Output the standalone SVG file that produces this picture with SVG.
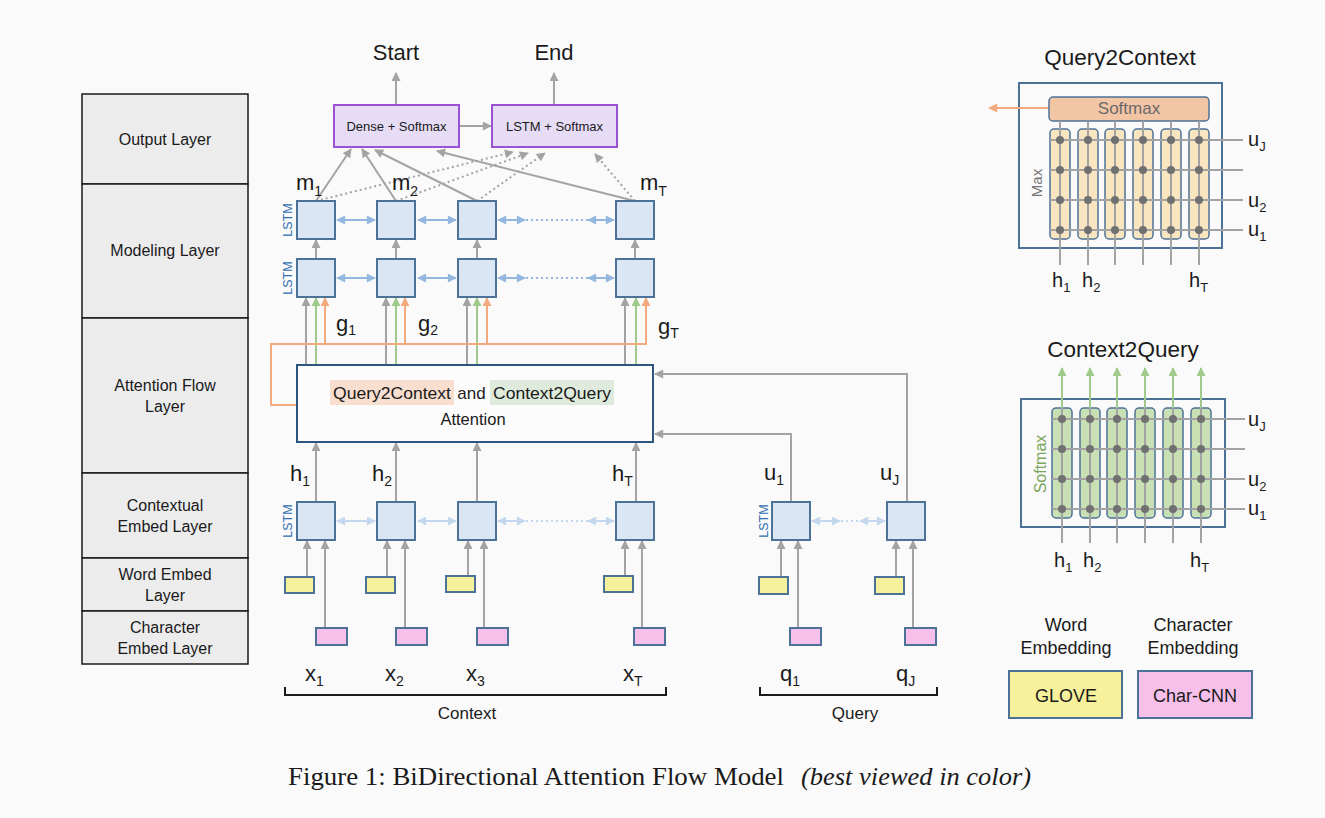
<svg xmlns="http://www.w3.org/2000/svg" width="1325" height="818" viewBox="0 0 1325 818">
<style>
text{font-family:"Liberation Sans",Arial,sans-serif;fill:#1a1a1a}
.layer{fill:#ececec;stroke:#1a1a1a;stroke-width:1.5}
.lt{font-size:16px;text-anchor:middle}
.lstm{fill:#dae6f3;stroke:#4d7298;stroke-width:2}
.yel{fill:#f8f19c;stroke:#4d7298;stroke-width:2}
.pink{fill:#f6c0ea;stroke:#4d7298;stroke-width:2}
.out{fill:#e6dcf6;stroke:#9b52d2;stroke-width:2}
.ot{font-size:13px;text-anchor:middle}
.big{font-size:22px;text-anchor:middle}
.lbl{font-size:22px}
.sub{font-size:14px}
.ltag{font-size:12.5px;fill:#2f6fb3;text-anchor:middle}
.g{stroke:#a3a3a3;stroke-width:2;fill:none}
.gd{stroke:#a3a3a3;stroke-width:2;fill:none;stroke-dasharray:2 3}
.or{stroke:#f2aa7e;stroke-width:2;fill:none}
.gr{stroke:#9fca8c;stroke-width:2;fill:none}
.bl{stroke:#93b7de;stroke-width:2;fill:none}
.bld{stroke:#93b7de;stroke-width:2;fill:none;stroke-dasharray:2 3}
.lb{stroke:#c3d8ee;stroke-width:2;fill:none}
.lbd{stroke:#c3d8ee;stroke-width:2;fill:none;stroke-dasharray:2 3}
.panel{fill:none;stroke:#4d7298;stroke-width:2}
.dot{fill:#707070}
.col1{fill:#f9e6c0;stroke:#4d7298;stroke-width:1.5}
.col2{fill:#c8e0b4;stroke:#4d7298;stroke-width:1.5}
.ptitle{font-size:22.5px;text-anchor:middle}
.pl{font-size:20px}
.psub{font-size:13px}
</style>
<defs>
<marker id="ag" viewBox="0 0 10 10" refX="9" refY="5" markerWidth="10" markerHeight="9" orient="auto" markerUnits="userSpaceOnUse"><path d="M0,0 L10,5 L0,10 z" fill="#a3a3a3"/></marker>
<marker id="ao" viewBox="0 0 10 10" refX="9" refY="5" markerWidth="10" markerHeight="9" orient="auto" markerUnits="userSpaceOnUse"><path d="M0,0 L10,5 L0,10 z" fill="#f2aa7e"/></marker>
<marker id="agr" viewBox="0 0 10 10" refX="9" refY="5" markerWidth="10" markerHeight="9" orient="auto" markerUnits="userSpaceOnUse"><path d="M0,0 L10,5 L0,10 z" fill="#9fca8c"/></marker>
<marker id="ab" viewBox="0 0 10 10" refX="9" refY="5" markerWidth="10" markerHeight="9" orient="auto-start-reverse" markerUnits="userSpaceOnUse"><path d="M0,0 L10,5 L0,10 z" fill="#93b7de"/></marker>
<marker id="alb" viewBox="0 0 10 10" refX="9" refY="5" markerWidth="10" markerHeight="9" orient="auto-start-reverse" markerUnits="userSpaceOnUse"><path d="M0,0 L10,5 L0,10 z" fill="#c3d8ee"/></marker>
</defs>
<rect width="1325" height="818" fill="#fafafa"/>

<g id="layers">
<rect class="layer" x="82" y="94" width="166" height="90"/>
<rect class="layer" x="82" y="184" width="166" height="134"/>
<rect class="layer" x="82" y="318" width="166" height="155"/>
<rect class="layer" x="82" y="473" width="166" height="85"/>
<rect class="layer" x="82" y="558" width="166" height="53"/>
<rect class="layer" x="82" y="611" width="166" height="53"/>
<text class="lt" x="165" y="145">Output Layer</text>
<text class="lt" x="165" y="256">Modeling Layer</text>
<text class="lt" x="165" y="391">Attention Flow</text>
<text class="lt" x="165" y="412">Layer</text>
<text class="lt" x="165" y="511">Contextual</text>
<text class="lt" x="165" y="532">Embed Layer</text>
<text class="lt" x="165" y="580">Word Embed</text>
<text class="lt" x="165" y="601">Layer</text>
<text class="lt" x="165" y="633">Character</text>
<text class="lt" x="165" y="654">Embed Layer</text>
</g>

<g id="connectors">
<line class="g" x1="396" y1="105" x2="396" y2="73" marker-end="url(#ag)"/>
<line class="g" x1="554" y1="105" x2="554" y2="73" marker-end="url(#ag)"/>
<line class="g" x1="459" y1="126" x2="491" y2="126" marker-end="url(#ag)"/>
<line class="g" x1="316" y1="201" x2="351" y2="149" marker-end="url(#ag)"/>
<line class="g" x1="396" y1="201" x2="362" y2="149" marker-end="url(#ag)"/>
<line class="g" x1="477" y1="201" x2="375" y2="150" marker-end="url(#ag)"/>
<line class="g" x1="635" y1="201" x2="437" y2="151" marker-end="url(#ag)"/>
<line class="gd" x1="316" y1="201" x2="513" y2="152" marker-end="url(#ag)"/>
<line class="gd" x1="396" y1="201" x2="528" y2="153" marker-end="url(#ag)"/>
<line class="gd" x1="477" y1="201" x2="545" y2="153" marker-end="url(#ag)"/>
<line class="gd" x1="635" y1="201" x2="595" y2="154" marker-end="url(#ag)"/>
<line class="bl" x1="337" y1="220" x2="375" y2="220" marker-start="url(#ab)" marker-end="url(#ab)"/>
<line class="bl" x1="418" y1="220" x2="456" y2="220" marker-start="url(#ab)" marker-end="url(#ab)"/>
<line class="bl" x1="498" y1="220" x2="525" y2="220" marker-start="url(#ab)" marker-end="url(#ab)"/>
<line class="bld" x1="526" y1="220" x2="588" y2="220"/>
<line class="bl" x1="588" y1="220" x2="614" y2="220" marker-start="url(#ab)" marker-end="url(#ab)"/>
<line class="bl" x1="337" y1="278" x2="375" y2="278" marker-start="url(#ab)" marker-end="url(#ab)"/>
<line class="bl" x1="418" y1="278" x2="456" y2="278" marker-start="url(#ab)" marker-end="url(#ab)"/>
<line class="bl" x1="498" y1="278" x2="525" y2="278" marker-start="url(#ab)" marker-end="url(#ab)"/>
<line class="bld" x1="526" y1="278" x2="588" y2="278"/>
<line class="bl" x1="588" y1="278" x2="614" y2="278" marker-start="url(#ab)" marker-end="url(#ab)"/>
<line class="g" x1="316" y1="259" x2="316" y2="240" marker-end="url(#ag)"/>
<line class="g" x1="396" y1="259" x2="396" y2="240" marker-end="url(#ag)"/>
<line class="g" x1="477" y1="259" x2="477" y2="240" marker-end="url(#ag)"/>
<line class="g" x1="635" y1="259" x2="635" y2="240" marker-end="url(#ag)"/>
<line class="g" x1="306" y1="365" x2="306" y2="298" marker-end="url(#ag)"/>
<line class="g" x1="386" y1="365" x2="386" y2="298" marker-end="url(#ag)"/>
<line class="g" x1="467" y1="365" x2="467" y2="298" marker-end="url(#ag)"/>
<line class="g" x1="625" y1="365" x2="625" y2="298" marker-end="url(#ag)"/>
<line class="gr" x1="316" y1="365" x2="316" y2="298" marker-end="url(#agr)"/>
<line class="gr" x1="396" y1="365" x2="396" y2="298" marker-end="url(#agr)"/>
<line class="gr" x1="477" y1="365" x2="477" y2="298" marker-end="url(#agr)"/>
<line class="gr" x1="636" y1="365" x2="636" y2="298" marker-end="url(#agr)"/>
<path class="or" d="M297,405 H271 V344 H646"/>
<line class="or" x1="325" y1="344" x2="325" y2="298" marker-end="url(#ao)"/>
<line class="or" x1="405" y1="344" x2="405" y2="298" marker-end="url(#ao)"/>
<line class="or" x1="487" y1="344" x2="487" y2="298" marker-end="url(#ao)"/>
<line class="or" x1="646" y1="345" x2="646" y2="298" marker-end="url(#ao)"/>
<path class="g" d="M907,502 V374 H655" marker-end="url(#ag)"/>
<path class="g" d="M791,502 V434 H655" marker-end="url(#ag)"/>
<line class="g" x1="316" y1="502" x2="316" y2="443" marker-end="url(#ag)"/>
<line class="g" x1="396" y1="502" x2="396" y2="443" marker-end="url(#ag)"/>
<line class="g" x1="477" y1="502" x2="477" y2="443" marker-end="url(#ag)"/>
<line class="g" x1="636" y1="502" x2="636" y2="443" marker-end="url(#ag)"/>
<line class="lb" x1="337" y1="521" x2="375" y2="521" marker-start="url(#alb)" marker-end="url(#alb)"/>
<line class="lb" x1="418" y1="521" x2="456" y2="521" marker-start="url(#alb)" marker-end="url(#alb)"/>
<line class="lb" x1="498" y1="521" x2="525" y2="521" marker-start="url(#alb)" marker-end="url(#alb)"/>
<line class="lbd" x1="526" y1="521" x2="588" y2="521"/>
<line class="lb" x1="588" y1="521" x2="614" y2="521" marker-start="url(#alb)" marker-end="url(#alb)"/>
<line class="lb" x1="812" y1="521" x2="840" y2="521" marker-start="url(#alb)" marker-end="url(#alb)"/>
<line class="lbd" x1="841" y1="521" x2="860" y2="521"/>
<line class="lb" x1="860" y1="521" x2="885" y2="521" marker-start="url(#alb)" marker-end="url(#alb)"/>
<line class="g" x1="307" y1="577" x2="307" y2="541" marker-end="url(#ag)"/>
<line class="g" x1="325" y1="628" x2="325" y2="541" marker-end="url(#ag)"/>
<line class="g" x1="387" y1="577" x2="387" y2="541" marker-end="url(#ag)"/>
<line class="g" x1="405" y1="628" x2="405" y2="541" marker-end="url(#ag)"/>
<line class="g" x1="468" y1="576" x2="468" y2="541" marker-end="url(#ag)"/>
<line class="g" x1="484" y1="628" x2="484" y2="541" marker-end="url(#ag)"/>
<line class="g" x1="625" y1="576" x2="625" y2="541" marker-end="url(#ag)"/>
<line class="g" x1="642" y1="628" x2="642" y2="541" marker-end="url(#ag)"/>
<line class="g" x1="781" y1="577" x2="781" y2="541" marker-end="url(#ag)"/>
<line class="g" x1="798" y1="628" x2="798" y2="541" marker-end="url(#ag)"/>
<line class="g" x1="896" y1="577" x2="896" y2="541" marker-end="url(#ag)"/>
<line class="g" x1="913" y1="628" x2="913" y2="541" marker-end="url(#ag)"/>
<path d="M285,687 V695 H666 V687" fill="none" stroke="#1a1a1a" stroke-width="2"/>
<path d="M760,687 V695 H937 V687" fill="none" stroke="#1a1a1a" stroke-width="2"/>
</g>

<g id="output">
<rect class="out" x="334" y="105" width="125" height="42"/>
<rect class="out" x="492" y="105" width="125" height="42"/>
<text class="ot" x="396.5" y="131">Dense + Softmax</text>
<text class="ot" x="554.5" y="131">LSTM + Softmax</text>
<text class="big" x="396" y="60">Start</text>
<text class="big" x="554" y="60">End</text>
</g>

<g id="modeling">
<rect class="lstm" x="297" y="201" width="38" height="38"/>
<rect class="lstm" x="377" y="201" width="38" height="38"/>
<rect class="lstm" x="458" y="201" width="38" height="38"/>
<rect class="lstm" x="616" y="201" width="38" height="38"/>
<rect class="lstm" x="297" y="259" width="38" height="38"/>
<rect class="lstm" x="377" y="259" width="38" height="38"/>
<rect class="lstm" x="458" y="259" width="38" height="38"/>
<rect class="lstm" x="616" y="259" width="38" height="38"/>
<text class="ltag" transform="translate(291.5,220) rotate(-90)">LSTM</text>
<text class="ltag" transform="translate(291.5,278) rotate(-90)">LSTM</text>
<text class="lbl" x="296" y="190">m<tspan class="sub" dy="6">1</tspan></text>
<text class="lbl" x="392" y="190">m<tspan class="sub" dy="6">2</tspan></text>
<text class="lbl" x="640" y="190">m<tspan class="sub" dy="6">T</tspan></text>
<text class="lbl" x="336" y="331">g<tspan class="sub" dy="4">1</tspan></text>
<text class="lbl" x="418" y="331">g<tspan class="sub" dy="4">2</tspan></text>
<text class="lbl" x="658" y="334">g<tspan class="sub" dy="4">T</tspan></text>
</g>

<g id="attention">
<rect x="297" y="365" width="356" height="77" fill="#fcfcfc" stroke="#2c5580" stroke-width="2"/>
<rect x="330" y="380" width="124" height="25" fill="#f8dece"/>
<rect x="490" y="380" width="124" height="25" fill="#deeadb"/>
<text x="333" y="399" font-size="17" textLength="118" lengthAdjust="spacingAndGlyphs">Query2Context</text>
<text x="471.5" y="399" font-size="17" text-anchor="middle">and</text>
<text x="493" y="399" font-size="17" textLength="118" lengthAdjust="spacingAndGlyphs">Context2Query</text>
<text x="473" y="425" font-size="16.5" text-anchor="middle">Attention</text>
</g>

<g id="contextual">
<rect class="lstm" x="297" y="502" width="38" height="38"/>
<rect class="lstm" x="377" y="502" width="38" height="38"/>
<rect class="lstm" x="458" y="502" width="38" height="38"/>
<rect class="lstm" x="616" y="502" width="38" height="38"/>
<text class="ltag" transform="translate(291.5,521) rotate(-90)">LSTM</text>
<text class="lbl" x="290" y="481">h<tspan class="sub" dy="5">1</tspan></text>
<text class="lbl" x="372" y="481">h<tspan class="sub" dy="5">2</tspan></text>
<text class="lbl" x="612" y="481">h<tspan class="sub" dy="5">T</tspan></text>
</g>

<g id="context-embed">
<rect class="yel" x="285" y="577" width="29" height="16"/>
<rect class="yel" x="366" y="577" width="29" height="16"/>
<rect class="yel" x="446" y="576" width="29" height="16"/>
<rect class="yel" x="604" y="576" width="29" height="16"/>
<rect class="pink" x="316" y="628" width="31" height="17"/>
<rect class="pink" x="396" y="628" width="31" height="17"/>
<rect class="pink" x="477" y="628" width="31" height="17"/>
<rect class="pink" x="634" y="628" width="31" height="17"/>
<text class="lbl" x="305" y="681">x<tspan class="sub" dy="5">1</tspan></text>
<text class="lbl" x="385" y="681">x<tspan class="sub" dy="5">2</tspan></text>
<text class="lbl" x="466" y="681">x<tspan class="sub" dy="5">3</tspan></text>
<text class="lbl" x="623" y="681">x<tspan class="sub" dy="5">T</tspan></text>
<text x="467" y="719" font-size="17" text-anchor="middle">Context</text>
</g>

<g id="query">
<rect class="lstm" x="772" y="502" width="38" height="38"/>
<rect class="lstm" x="887" y="502" width="38" height="38"/>
<text class="ltag" transform="translate(767.5,521) rotate(-90)">LSTM</text>
<text class="lbl" x="764" y="480">u<tspan class="sub" dy="5">1</tspan></text>
<text class="lbl" x="880" y="480">u<tspan class="sub" dy="5">J</tspan></text>
<rect class="yel" x="759" y="577" width="29" height="17"/>
<rect class="yel" x="875" y="577" width="29" height="17"/>
<rect class="pink" x="790" y="628" width="31" height="17"/>
<rect class="pink" x="905" y="628" width="31" height="17"/>
<text class="lbl" x="780" y="681">q<tspan class="sub" dy="5">1</tspan></text>
<text class="lbl" x="896" y="681">q<tspan class="sub" dy="5">J</tspan></text>
<text x="855" y="719" font-size="17" text-anchor="middle">Query</text>
</g>

<g id="query2context">
<text class="ptitle" x="1120" y="65">Query2Context</text>
<rect class="panel" x="1019" y="83" width="203" height="165" fill="#fafafa"/>
<line class="or" x1="1049" y1="108" x2="989" y2="108" marker-end="url(#ao)"/>
<rect x="1049" y="97" width="160" height="24" rx="4" fill="#f2c5a5" stroke="#4d7298" stroke-width="1.5"/>
<text x="1129" y="114" font-size="17" text-anchor="middle" style="fill:#6a6a6a">Softmax</text>
<text transform="translate(1042,183) rotate(-90)" font-size="15" text-anchor="middle" style="fill:#777">Max</text>
<rect class="col1" x="1050" y="129" width="20" height="110" rx="4"/>
<rect class="col1" x="1078" y="129" width="20" height="110" rx="4"/>
<rect class="col1" x="1105" y="129" width="20" height="110" rx="4"/>
<rect class="col1" x="1133" y="129" width="20" height="110" rx="4"/>
<rect class="col1" x="1161" y="129" width="20" height="110" rx="4"/>
<rect class="col1" x="1189" y="129" width="20" height="110" rx="4"/>
<g class="g">
<path d="M1060,121 V265 M1088,121 V265 M1115,121 V265 M1143,121 V265 M1171,121 V265 M1199,121 V265"/>
<path d="M1050,140 H1243 M1050,170 H1243 M1050,200 H1243 M1050,230 H1243"/>
</g>
<g class="dot">
<circle cx="1060" cy="140" r="4"/><circle cx="1088" cy="140" r="4"/><circle cx="1115" cy="140" r="4"/><circle cx="1143" cy="140" r="4"/><circle cx="1171" cy="140" r="4"/><circle cx="1199" cy="140" r="4"/>
<circle cx="1060" cy="170" r="4"/><circle cx="1088" cy="170" r="4"/><circle cx="1115" cy="170" r="4"/><circle cx="1143" cy="170" r="4"/><circle cx="1171" cy="170" r="4"/><circle cx="1199" cy="170" r="4"/>
<circle cx="1060" cy="200" r="4"/><circle cx="1088" cy="200" r="4"/><circle cx="1115" cy="200" r="4"/><circle cx="1143" cy="200" r="4"/><circle cx="1171" cy="200" r="4"/><circle cx="1199" cy="200" r="4"/>
<circle cx="1060" cy="230" r="4"/><circle cx="1088" cy="230" r="4"/><circle cx="1115" cy="230" r="4"/><circle cx="1143" cy="230" r="4"/><circle cx="1171" cy="230" r="4"/><circle cx="1199" cy="230" r="4"/>
</g>
<text class="pl" x="1248" y="146">u<tspan class="psub" dy="5">J</tspan></text>
<text class="pl" x="1248" y="207">u<tspan class="psub" dy="5">2</tspan></text>
<text class="pl" x="1248" y="236">u<tspan class="psub" dy="5">1</tspan></text>
<text class="pl" x="1052" y="287">h<tspan class="psub" dy="5">1</tspan></text>
<text class="pl" x="1082" y="287">h<tspan class="psub" dy="5">2</tspan></text>
<text class="pl" x="1189" y="287">h<tspan class="psub" dy="5">T</tspan></text>
</g>

<g id="context2query">
<text class="ptitle" x="1123" y="357">Context2Query</text>
<rect class="panel" x="1021" y="399" width="204" height="128" fill="#fafafa"/>
<text transform="translate(1046,464) rotate(-90)" font-size="16" text-anchor="middle" style="fill:#7aa65a">Softmax</text>
<rect class="col2" x="1052" y="408" width="20" height="110" rx="4"/>
<rect class="col2" x="1080" y="408" width="20" height="110" rx="4"/>
<rect class="col2" x="1107" y="408" width="20" height="110" rx="4"/>
<rect class="col2" x="1135" y="408" width="20" height="110" rx="4"/>
<rect class="col2" x="1163" y="408" width="20" height="110" rx="4"/>
<rect class="col2" x="1191" y="408" width="20" height="110" rx="4"/>
<g class="g">
<path d="M1062,408 V543 M1090,408 V543 M1117,408 V543 M1145,408 V543 M1173,408 V543 M1201,408 V543"/>
<path d="M1052,419 H1245 M1052,449 H1245 M1052,479 H1245 M1052,509 H1245"/>
</g>
<line class="gr" x1="1062" y1="408" x2="1062" y2="368" marker-end="url(#agr)"/>
<line class="gr" x1="1090" y1="408" x2="1090" y2="368" marker-end="url(#agr)"/>
<line class="gr" x1="1117" y1="408" x2="1117" y2="368" marker-end="url(#agr)"/>
<line class="gr" x1="1145" y1="408" x2="1145" y2="368" marker-end="url(#agr)"/>
<line class="gr" x1="1173" y1="408" x2="1173" y2="368" marker-end="url(#agr)"/>
<line class="gr" x1="1201" y1="408" x2="1201" y2="368" marker-end="url(#agr)"/>
<g class="dot">
<circle cx="1062" cy="419" r="4"/><circle cx="1090" cy="419" r="4"/><circle cx="1117" cy="419" r="4"/><circle cx="1145" cy="419" r="4"/><circle cx="1173" cy="419" r="4"/><circle cx="1201" cy="419" r="4"/>
<circle cx="1062" cy="449" r="4"/><circle cx="1090" cy="449" r="4"/><circle cx="1117" cy="449" r="4"/><circle cx="1145" cy="449" r="4"/><circle cx="1173" cy="449" r="4"/><circle cx="1201" cy="449" r="4"/>
<circle cx="1062" cy="479" r="4"/><circle cx="1090" cy="479" r="4"/><circle cx="1117" cy="479" r="4"/><circle cx="1145" cy="479" r="4"/><circle cx="1173" cy="479" r="4"/><circle cx="1201" cy="479" r="4"/>
<circle cx="1062" cy="509" r="4"/><circle cx="1090" cy="509" r="4"/><circle cx="1117" cy="509" r="4"/><circle cx="1145" cy="509" r="4"/><circle cx="1173" cy="509" r="4"/><circle cx="1201" cy="509" r="4"/>
</g>
<text class="pl" x="1248" y="426">u<tspan class="psub" dy="5">J</tspan></text>
<text class="pl" x="1248" y="486">u<tspan class="psub" dy="5">2</tspan></text>
<text class="pl" x="1248" y="515">u<tspan class="psub" dy="5">1</tspan></text>
<text class="pl" x="1054" y="567">h<tspan class="psub" dy="5">1</tspan></text>
<text class="pl" x="1083" y="567">h<tspan class="psub" dy="5">2</tspan></text>
<text class="pl" x="1190" y="567">h<tspan class="psub" dy="5">T</tspan></text>
</g>

<g id="legend">
<text x="1066" y="631" font-size="18" text-anchor="middle">Word</text>
<text x="1066" y="654" font-size="18" text-anchor="middle">Embedding</text>
<text x="1193" y="631" font-size="18" text-anchor="middle">Character</text>
<text x="1193" y="654" font-size="18" text-anchor="middle">Embedding</text>
<rect x="1009" y="671" width="113" height="47" fill="#f8f19c" stroke="#4d7298" stroke-width="2"/>
<rect x="1138" y="671" width="114" height="47" fill="#f6c0ea" stroke="#4d7298" stroke-width="2"/>
<text x="1066" y="702" font-size="18" text-anchor="middle">GLOVE</text>
<text x="1195" y="702" font-size="18" text-anchor="middle">Char-CNN</text>
</g>

<g id="caption">
<text x="288" y="785" font-size="26" textLength="496" lengthAdjust="spacingAndGlyphs" style="font-family:'Liberation Serif','Times New Roman',serif">Figure 1: BiDirectional Attention Flow Model</text>
<text x="801" y="785" font-size="26" font-style="italic" textLength="230" lengthAdjust="spacingAndGlyphs" style="font-family:'Liberation Serif','Times New Roman',serif">(best viewed in color)</text>
</g>
</svg>
